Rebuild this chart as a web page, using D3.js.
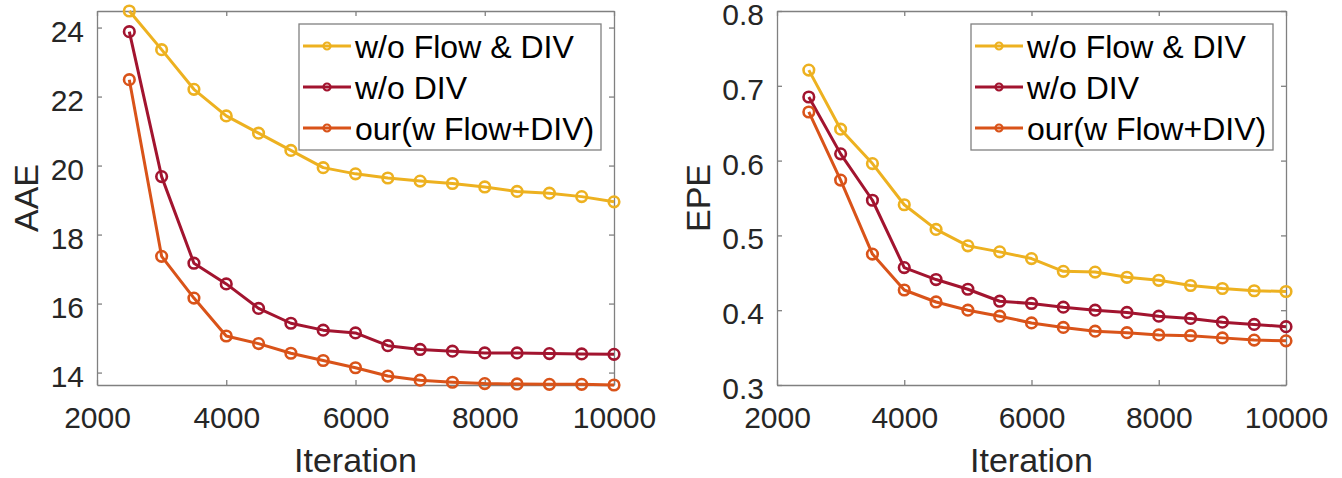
<!DOCTYPE html>
<html>
<head>
<meta charset="utf-8">
<script src="https://cdn.jsdelivr.net/npm/d3@7"></script>
<style>
  body { margin: 0; background: #fff; }
  svg { font-family: "Liberation Sans", Arial, Helvetica, sans-serif; }
  .axis path, .axis line { stroke: #808080; stroke-width: 1.3; }
  .axis text { fill: #262626; font-size: 30px; }
</style>
</head>
<body>
<div id="chart"></div>
<script>
var iterations = [2500, 3000, 3500, 4000, 4500, 5000, 5500, 6000, 6500, 7000, 7500, 8000, 8500, 9000, 9500, 10000];
var seriesNames = ["w/o Flow & DIV", "w/o DIV", "our(w Flow+DIV)"];
var seriesColors = ["#EDB120", "#A2142F", "#D95319"];

var aaeNoFlowDiv = [24.48, 23.36, 22.21, 21.44, 20.94, 20.44, 19.94, 19.76, 19.64, 19.55, 19.48, 19.38, 19.25, 19.20, 19.10, 18.95];
var aaeNoDiv     = [23.88, 19.68, 17.17, 16.57, 15.86, 15.43, 15.23, 15.15, 14.78, 14.67, 14.62, 14.57, 14.57, 14.55, 14.54, 14.53];
var aaeOur       = [22.49, 17.37, 16.16, 15.06, 14.84, 14.56, 14.35, 14.14, 13.90, 13.78, 13.72, 13.68, 13.67, 13.66, 13.66, 13.64];

var epeNoFlowDiv = [0.721, 0.642, 0.596, 0.541, 0.508, 0.486, 0.478, 0.469, 0.452, 0.451, 0.444, 0.440, 0.433, 0.429, 0.426, 0.425];
var epeNoDiv     = [0.685, 0.609, 0.547, 0.457, 0.441, 0.428, 0.412, 0.409, 0.404, 0.400, 0.397, 0.392, 0.389, 0.384, 0.381, 0.378];
var epeOur       = [0.665, 0.574, 0.475, 0.427, 0.411, 0.400, 0.392, 0.383, 0.377, 0.372, 0.370, 0.367, 0.366, 0.363, 0.360, 0.359];

var xTicks = [2000, 4000, 6000, 8000, 10000];
var aaeTicks = [14, 16, 18, 20, 22, 24];
var epeTicks = [0.3, 0.4, 0.5, 0.6, 0.7, 0.8];

var svg = d3.select("#chart").append("svg")
    .attr("width", 1342)
    .attr("height", 478);

function panel(opts) {
    var left = opts.left, right = opts.right, top = 11, bottom = 385;
    var g = svg.append("g");

    var x = d3.scaleLinear().domain([2000, 10000]).range([left, right]);
    var y = d3.scaleLinear().domain(opts.yDomain).range([bottom, top]);

    // box with inside ticks, matlab style
    g.append("g").attr("class", "axis")
        .attr("transform", "translate(0," + bottom + ")")
        .call(d3.axisBottom(x).tickValues(xTicks).tickSizeInner(-5).tickSizeOuter(0).tickPadding(11).tickFormat(d3.format("d")))
      .selectAll("text").attr("dy", "1.05em");
    g.append("g").attr("class", "axis")
        .attr("transform", "translate(0," + top + ")")
        .call(d3.axisTop(x).tickValues(xTicks).tickSizeInner(-5).tickSizeOuter(0).tickFormat(""));
    g.append("g").attr("class", "axis")
        .attr("transform", "translate(" + left + ",0)")
        .call(d3.axisLeft(y).tickValues(opts.ticks).tickSizeInner(-5).tickSizeOuter(0).tickPadding(13).tickFormat(opts.fmt))
      .selectAll("text").attr("dy", "0.45em");
    g.append("g").attr("class", "axis")
        .attr("transform", "translate(" + right + ",0)")
        .call(d3.axisRight(y).tickValues(opts.ticks).tickSizeInner(-5).tickSizeOuter(0).tickFormat(""));

    g.append("text")
        .attr("x", (left + right) / 2)
        .attr("y", 472)
        .attr("text-anchor", "middle")
        .style("font-size", "34px")
        .style("fill", "#262626")
        .text("Iteration");

    g.append("text")
        .attr("transform", "translate(" + opts.labelX + "," + (top + bottom) / 2 + ") rotate(-90)")
        .attr("text-anchor", "middle")
        .style("font-size", "34px")
        .style("fill", "#262626")
        .text(opts.label);

    var line = d3.line()
        .x(function(d) { return x(d[0]); })
        .y(function(d) { return y(d[1]); });

    opts.series.forEach(function(vals, i) {
        var pts = iterations.map(function(it, j) { return [it, vals[j]]; });
        g.append("path")
            .datum(pts)
            .attr("fill", "none")
            .attr("stroke", seriesColors[i])
            .attr("stroke-width", 3)
            .attr("stroke-linejoin", "round")
            .attr("d", line);
        g.selectAll(".dot" + i)
            .data(pts)
          .enter().append("circle")
            .attr("class", "dot" + i)
            .attr("cx", function(d) { return x(d[0]); })
            .attr("cy", function(d) { return y(d[1]); })
            .attr("r", 5.3)
            .attr("fill", "none")
            .attr("stroke", seriesColors[i])
            .attr("stroke-width", 2.6);
    });

    // legend
    var lg = g.append("g").attr("transform", "translate(" + opts.legendX + ",24)");
    lg.append("rect")
        .attr("width", 302)
        .attr("height", 126)
        .attr("fill", "#fff")
        .attr("stroke", "#808080")
        .attr("stroke-width", 1.3);
    var rows = lg.selectAll(".legend")
        .data(seriesNames)
      .enter().append("g")
        .attr("transform", function(d, i) { return "translate(0," + (22 + i * 41) + ")"; });
    rows.append("line")
        .attr("x1", 4).attr("x2", 52)
        .attr("stroke", function(d, i) { return seriesColors[i]; })
        .attr("stroke-width", 3);
    rows.append("circle")
        .attr("cx", 28).attr("r", 3.5)
        .attr("fill", "none")
        .attr("stroke", function(d, i) { return seriesColors[i]; })
        .attr("stroke-width", 2.2);
    rows.append("text")
        .attr("x", 56)
        .attr("dy", "0.36em")
        .style("font-size", "32px")
        .style("fill", "#000")
        .text(function(d) { return d; });
}

panel({
    left: 97, right: 614,
    yDomain: d3.extent(aaeNoFlowDiv.concat(aaeNoDiv, aaeOur)),
    ticks: aaeTicks, fmt: d3.format("d"),
    label: "AAE", labelX: 38,
    legendX: 299,
    series: [aaeNoFlowDiv, aaeNoDiv, aaeOur]
});

panel({
    left: 777, right: 1286,
    yDomain: [0.3, 0.8],
    ticks: epeTicks, fmt: d3.format(".1f"),
    label: "EPE", labelX: 710,
    legendX: 971,
    series: [epeNoFlowDiv, epeNoDiv, epeOur]
});
</script>
</body>
</html>
